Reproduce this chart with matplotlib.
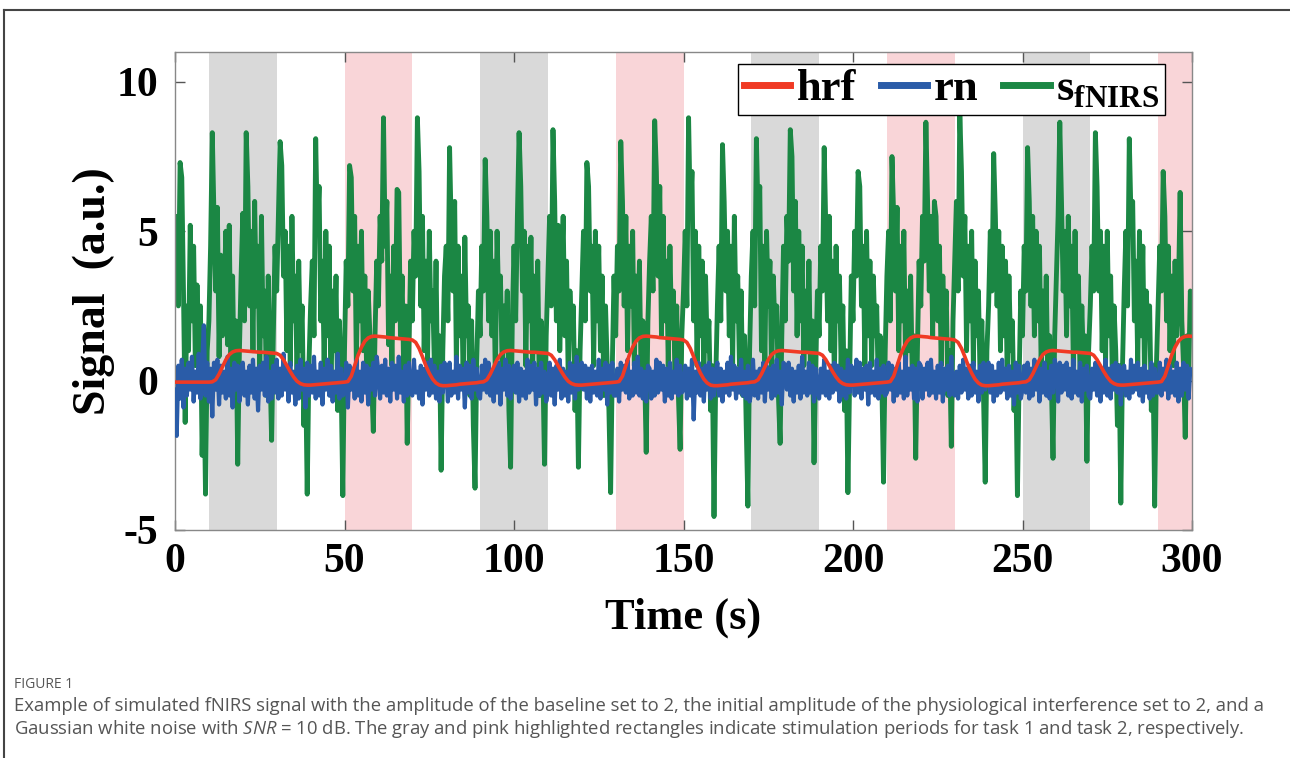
import numpy as np
import matplotlib
matplotlib.use('Agg')
import matplotlib.pyplot as plt
from matplotlib.lines import Line2D

plt.rcParams['mathtext.fontset'] = 'custom'
plt.rcParams['mathtext.bf'] = 'Liberation Serif:bold'
plt.rcParams['mathtext.rm'] = 'Liberation Serif'
plt.rcParams['mathtext.it'] = 'Open Sans:italic'

# ---------------- data ----------------
# stimulation blocks (s)
task1_onsets = [10, 90, 170, 250]     # gray
task2_onsets = [50, 130, 210, 290]    # pink
block_len = 20

# hrf sampled every 1 s, t = 0..300
hrf = [
    -0.05, -0.05, -0.05, -0.05, -0.05, -0.05, -0.05, -0.05, -0.05, -0.05,
    # gray block 10..49
    -0.05, -0.04, 0.03, 0.22, 0.46, 0.70, 0.87, 0.96, 1.00, 1.01,
    1.00, 0.99, 0.98, 0.97, 0.96, 0.95, 0.95, 0.94, 0.93, 0.92,
    0.91, 0.85, 0.70, 0.50, 0.30, 0.12, -0.02, -0.10, -0.14, -0.15,
    -0.15, -0.14, -0.13, -0.12, -0.11, -0.10, -0.09, -0.08, -0.07, -0.06,
    # pink block 50..89
    -0.05, -0.03, 0.15, 0.50, 0.85, 1.12, 1.32, 1.43, 1.48, 1.49,
    1.48, 1.47, 1.46, 1.44, 1.43, 1.42, 1.41, 1.40, 1.39, 1.38,
    1.36, 1.28, 1.08, 0.80, 0.50, 0.25, 0.05, -0.08, -0.15, -0.17,
    -0.17, -0.16, -0.15, -0.14, -0.12, -0.11, -0.10, -0.09, -0.08, -0.07,
    # gray block 90..129
    -0.05, -0.04, 0.03, 0.22, 0.46, 0.70, 0.87, 0.96, 1.00, 1.01,
    1.00, 0.99, 0.98, 0.97, 0.96, 0.95, 0.95, 0.94, 0.93, 0.92,
    0.91, 0.85, 0.70, 0.50, 0.30, 0.12, -0.02, -0.10, -0.14, -0.15,
    -0.15, -0.14, -0.13, -0.12, -0.11, -0.10, -0.09, -0.08, -0.07, -0.06,
    # pink block 130..169
    -0.05, -0.03, 0.15, 0.50, 0.85, 1.12, 1.32, 1.43, 1.48, 1.49,
    1.48, 1.47, 1.46, 1.44, 1.43, 1.42, 1.41, 1.40, 1.39, 1.38,
    1.36, 1.28, 1.08, 0.80, 0.50, 0.25, 0.05, -0.08, -0.15, -0.17,
    -0.17, -0.16, -0.15, -0.14, -0.12, -0.11, -0.10, -0.09, -0.08, -0.07,
    # gray block 170..209
    -0.05, -0.04, 0.03, 0.22, 0.46, 0.70, 0.87, 0.96, 1.00, 1.01,
    1.00, 0.99, 0.98, 0.97, 0.96, 0.95, 0.95, 0.94, 0.93, 0.92,
    0.91, 0.85, 0.70, 0.50, 0.30, 0.12, -0.02, -0.10, -0.14, -0.15,
    -0.15, -0.14, -0.13, -0.12, -0.11, -0.10, -0.09, -0.08, -0.07, -0.06,
    # pink block 210..249
    -0.05, -0.03, 0.15, 0.50, 0.85, 1.12, 1.32, 1.43, 1.48, 1.49,
    1.48, 1.47, 1.46, 1.44, 1.43, 1.42, 1.41, 1.40, 1.39, 1.38,
    1.36, 1.28, 1.08, 0.80, 0.50, 0.25, 0.05, -0.08, -0.15, -0.17,
    -0.17, -0.16, -0.15, -0.14, -0.12, -0.11, -0.10, -0.09, -0.08, -0.07,
    # gray block 250..289
    -0.05, -0.04, 0.03, 0.22, 0.46, 0.70, 0.87, 0.96, 1.00, 1.01,
    1.00, 0.99, 0.98, 0.97, 0.96, 0.95, 0.95, 0.94, 0.93, 0.92,
    0.91, 0.85, 0.70, 0.50, 0.30, 0.12, -0.02, -0.10, -0.14, -0.15,
    -0.15, -0.14, -0.13, -0.12, -0.11, -0.10, -0.09, -0.08, -0.07, -0.06,
    # pink block 290..300
    -0.05, -0.03, 0.15, 0.50, 0.85, 1.12, 1.32, 1.43, 1.48, 1.49, 1.48,
]

# s_fNIRS sampled every 0.5 s, t = 0..300 (one row per 10 s)
s_fnirs = [
    3.0, 5.5, 2.5, 7.3, 6.8, 3.0, -1.4, 2.5, 1.0, 5.2, 2.0, 4.5, 0.5, 3.2, 1.0, 2.5, -2.5, 0.5, -3.8, 1.0,
    2.0, 4.5, 8.3, 5.5, 3.0, 5.8, 0.8, 4.2, 1.5, 2.8, 5.0, 1.2, 5.2, 0.5, 3.5, -0.5, 2.0, -2.8, 1.0, 3.5,
    5.6, 2.0, 8.3, 6.5, 2.5, 5.0, 1.0, 6.0, 2.5, 4.5, 0.0, 5.5, 1.5, 3.0, -0.5, 3.5, 0.5, -2.0, 1.5, 4.5,
    3.0, 5.5, 8.0, 7.2, 3.5, 5.0, 1.0, 4.5, 0.5, 5.5, 2.0, 3.5, 0.0, 4.0, 1.0, 2.5, -1.5, 0.5, -3.8, 0.5,
    2.5, 4.0, 1.5, 8.1, 5.0, 6.5, 2.0, 4.0, 0.5, 5.0, 1.5, 4.5, -0.5, 3.0, 1.0, 3.5, -1.0, 2.0, 0.0, -3.85,
    1.0, 4.0, 2.5, 7.2, 6.8, 3.0, 5.5, 0.5, 4.5, 2.0, 5.0, 1.0, 3.5, 0.5, 3.0, 1.5, 0.0, -1.7, 1.5, 4.0,
    2.5, 5.5, 4.0, 8.8, 4.5, 6.0, 1.2, 3.5, 0.5, 4.5, 2.0, 6.4, 6.3, 1.5, 3.5, 0.0, 2.5, -2.1, 1.0, 4.0,
    2.0, 5.0, 3.5, 8.8, 7.0, 2.5, 5.5, 1.0, 4.0, 0.5, 5.0, 2.0, 3.0, 0.5, 4.0, -0.5, 1.5, -3.0, 1.0, 3.5,
    4.5, 2.0, 7.8, 5.0, 3.0, 6.0, 0.5, 4.5, 1.5, 3.5, 0.0, 4.8, 1.5, 2.5, -0.5, 2.0, -1.5, -3.6, 0.5, 3.0,
    1.5, 4.5, 3.0, 7.4, 5.5, 2.0, 5.0, 1.5, 4.0, 0.0, 5.0, 2.5, 3.5, 0.5, 2.5, 1.0, 3.0, -1.0, -2.9, 2.0,
    4.5, 2.0, 5.5, 8.3, 6.5, 3.0, 5.0, 0.5, 4.5, 2.0, 4.8, 0.5, 3.5, 1.0, 4.0, -0.5, 2.0, 0.5, -2.8, 1.5,
    3.5, 5.5, 2.5, 8.4, 6.0, 2.0, 5.2, 1.0, 3.5, 5.5, 1.5, 4.0, 0.0, 3.0, 1.5, 2.5, -1.0, 1.0, -2.9, 1.0,
    3.0, 5.0, 2.0, 7.3, 6.5, 3.0, 4.5, 0.5, 5.0, 2.0, 4.5, 1.0, 3.5, -0.5, 2.5, 0.5, -1.0, -3.75, 0.5, 3.5,
    1.5, 4.5, 3.0, 8.0, 6.0, 2.5, 5.5, 1.0, 4.5, 2.5, 5.0, 0.5, 3.5, 1.5, 4.0, 0.0, 2.0, 0.5, -2.4, 2.0,
    4.0, 5.5, 3.0, 8.7, 7.0, 3.5, 6.5, 1.5, 5.5, 2.0, 4.0, 0.5, 4.5, 1.5, 3.0, 0.0, 2.5, -0.5, -2.3, 1.5,
    3.0, 5.0, 2.5, 8.8, 5.5, 7.0, 2.0, 5.0, 0.5, 4.5, 1.5, 4.0, 0.0, 3.5, 1.0, 2.0, -1.0, 0.5, -4.55, 0.0,
    2.5, 4.5, 2.0, 7.9, 6.0, 3.0, 5.0, 1.5, 4.5, 0.5, 5.5, 2.0, 3.5, 0.5, 3.0, -0.5, 1.5, -1.5, -4.2, 1.0,
    3.5, 5.0, 2.5, 8.1, 5.5, 6.5, 1.0, 4.5, 0.5, 5.0, 2.5, 4.0, 0.0, 3.5, 1.5, 2.5, -0.5, -2.1, 1.5, 4.5,
    2.0, 5.5, 4.0, 8.4, 7.5, 3.0, 6.0, 1.5, 5.0, 2.0, 4.5, 0.5, 3.0, 1.0, 4.0, 0.0, 2.0, -2.75, 0.5, 3.0,
    1.5, 4.5, 3.0, 7.8, 5.0, 2.0, 5.5, 1.0, 4.0, 0.0, 4.5, 2.0, 3.5, 0.5, 2.5, -1.0, 1.0, -3.75, 0.0, 3.5,
    2.0, 5.0, 3.5, 7.0, 6.5, 2.5, 4.5, 0.5, 5.0, 1.5, 4.0, 0.5, 3.5, 1.5, 2.5, -0.5, 1.5, 0.0, -3.4, 1.0,
    3.5, 5.0, 2.0, 7.5, 5.5, 3.0, 5.8, 1.0, 4.5, 2.0, 5.0, 0.5, 3.0, 1.0, 3.5, 0.0, 1.5, -2.6, 1.0, 4.0,
    2.5, 5.5, 4.0, 8.65, 6.0, 3.0, 5.5, 1.5, 6.0, 5.5, 2.0, 4.5, 0.5, 3.5, 1.5, 3.0, -0.5, 1.0, -2.2, 2.0,
    4.0, 6.0, 3.0, 9.0, 7.0, 3.5, 5.5, 1.0, 4.5, 2.0, 5.0, 0.5, 4.0, 1.5, 3.0, 0.0, 2.0, -0.5, -3.4, 1.0,
    2.5, 5.0, 3.0, 7.6, 5.5, 2.5, 5.0, 1.0, 4.5, 1.5, 4.0, 0.0, 3.5, 1.0, 2.0, -1.0, 0.5, -3.85, 0.0, 3.0,
    1.5, 4.5, 3.0, 7.8, 6.0, 2.5, 5.5, 1.5, 5.0, 2.0, 4.5, 0.5, 3.0, 1.0, 3.5, -0.5, 1.5, 0.0, -2.6, 1.5,
    3.5, 5.5, 8.65, 6.0, 3.0, 5.0, 1.5, 5.5, 2.5, 4.5, 0.5, 5.0, 1.0, 3.5, 0.0, 2.5, 0.5, 1.5, -2.7, 1.0,
    2.5, 4.5, 3.0, 8.3, 6.5, 3.0, 5.0, 1.0, 4.5, 0.5, 5.0, 1.5, 3.5, 0.0, 2.5, 1.0, -1.5, 0.5, -4.1, 0.5,
    3.0, 5.0, 2.5, 8.1, 5.5, 6.0, 2.0, 4.0, 0.5, 5.0, 1.5, 4.5, 0.0, 3.0, 1.5, 2.5, -1.0, 0.5, -4.2, 0.5,
    2.5, 4.5, 3.0, 7.0, 5.5, 2.0, 4.5, 1.0, 3.5, 0.5, 4.0, 1.5, 3.0, 6.3, 2.0, 0.5, -1.9, 1.5, 0.0, 3.0,
    2.5,
]

# rn (residual noise) sampled every 0.5 s, t = 0..300
rn = [
    -0.3, -1.85, 0.5, -0.6, 0.7, -0.9, 0.4, -0.5, 0.6, -0.3, 0.8, -0.7, 0.3, -0.4, 0.9, -0.6, 0.5, 1.85, -0.5, 0.6,
    -0.7, 0.4, -1.2, 0.6, -0.3, 0.7, -0.8, 0.5, -0.4, 0.3, -0.6, 0.8, -0.5, 0.4, -0.9, 0.6, -0.3, 0.5, -0.7, 0.4,
    0.6, -0.5, 0.3, -0.8, 0.5, -0.4, 0.7, -0.6, 0.4, -1.0, 0.5, -0.3, 0.6, -0.5, 0.8, -0.7, 0.3, -0.6, 0.5, -0.4,
    0.7, -0.6, 0.4, -0.5, 0.9, -0.3, 0.5, -0.7, 0.6, -0.4, 0.3, -0.8, 0.5, -0.6, 0.7, -0.3, 0.4, -0.9, 0.6, -0.5,
    0.5, -0.4, 0.8, -0.6, 0.3, -0.5, 0.6, -0.8, 0.4, -0.3, 0.7, -0.5, 0.5, -0.7, 0.3, -0.4, 0.9, -0.6, 0.4, -0.5,
    -0.4, 0.6, -0.9, 0.5, -0.3, 0.4, -0.6, 0.7, -0.5, 0.3, -0.7, 0.6, -0.4, 0.5, -0.8, 0.4, -0.3, 0.6, -0.5, 0.8,
    0.3, -0.6, 0.5, -0.4, 0.7, -0.5, 0.4, -0.7, 0.6, -0.3, 0.5, -0.6, 0.8, -0.4, 0.3, -0.7, 0.5, -0.5, 0.6, -0.4,
    -0.5, 0.7, -0.4, 0.3, -0.6, 0.5, -0.8, 0.4, -0.3, 0.6, -0.5, 0.7, -0.4, 0.5, -0.6, 0.3, -0.7, 0.5, -0.4, 0.6,
    0.4, -0.7, 0.6, -0.5, 0.3, -0.4, 0.8, -0.6, 0.5, -0.3, 0.4, -0.9, 0.6, -0.4, 0.5, -0.6, 0.7, -0.3, 0.4, -0.5,
    -0.6, 0.5, -0.3, 0.7, -0.4, 0.6, -0.5, 0.3, -0.7, 0.5, -0.4, 0.6, -0.8, 0.4, -0.3, 0.7, -0.5, 0.5, -0.6, 0.3,
    0.5, -0.4, 0.6, -0.7, 0.4, -0.5, 0.3, -0.6, 0.7, -0.4, 0.5, -0.3, 0.6, -0.8, 0.4, -0.5, 0.6, -0.4, 0.3, -0.7,
    -0.4, 0.6, -0.5, 0.4, -0.8, 0.5, -0.3, 0.7, -0.6, 0.4, -0.5, 0.3, -0.7, 0.6, -0.4, 0.5, -0.6, 0.8, -0.3, 0.4,
    0.6, -0.3, 0.5, -0.6, 0.4, -0.7, 0.5, -0.4, 0.3, -0.5, 0.7, -0.6, 0.4, -0.3, 0.6, -0.8, 0.5, -0.4, 0.6, -0.5,
    -0.5, 0.4, -0.7, 0.6, -0.3, 0.5, -0.4, 0.7, -0.6, 0.3, -0.5, 0.6, -0.4, 0.8, -0.5, 0.4, -0.6, 0.3, -0.7, 0.5,
    0.4, -0.6, 0.3, -0.5, 0.7, -0.4, 0.6, -0.3, 0.5, -0.7, 0.4, -0.5, 0.6, -0.6, 0.3, -0.4, 0.7, -0.5, 0.5, -0.4,
    -0.3, 0.5, -0.6, 0.4, -0.5, 0.7, -1.3, 0.3, -0.4, 0.6, -0.5, 0.4, -0.7, 0.5, -0.3, 0.6, -0.6, 0.4, -0.5, 0.3,
    0.6, -0.5, 0.4, -0.7, 0.3, -0.4, 0.6, -0.5, 0.8, -0.3, 0.5, -0.6, 0.4, -0.4, 0.7, -0.5, 0.3, -0.6, 0.5, -0.7,
    -0.4, 0.7, -0.5, 0.3, -0.6, 0.4, -0.4, 0.6, -0.7, 0.5, -0.3, 0.4, -0.6, 0.5, -0.5, 0.7, -0.4, 0.3, -0.8, 0.6,
    0.5, -0.3, 0.6, -0.5, 0.4, -0.7, 0.3, -0.4, 0.5, -0.6, 0.8, -0.4, 0.3, -0.5, 0.6, -0.4, 0.5, -0.7, 0.4, -0.3,
    -0.6, 0.4, -0.4, 0.7, -0.5, 0.3, -0.6, 0.5, -0.4, 0.6, -0.3, 0.5, -0.7, 0.4, -0.5, 0.3, -0.6, 0.7, -0.4, 0.5,
    0.3, -0.5, 0.7, -0.4, 0.6, -0.6, 0.4, -0.3, 0.5, -0.8, 0.6, -0.4, 0.3, -0.5, 0.7, -0.6, 0.4, -0.4, 0.5, -0.5,
    -0.4, 0.6, -0.3, 0.5, -0.7, 0.4, -0.5, 0.6, -0.4, 0.3, -0.6, 0.8, -0.5, 0.4, -0.3, 0.5, -0.6, 0.4, -0.7, 0.6,
    0.5, -0.6, 0.4, -0.3, 0.6, -0.5, 0.7, -0.4, 0.3, -0.6, 0.5, -0.4, 0.6, -0.7, 0.4, -0.3, 0.5, -0.5, 0.8, -0.4,
    -0.5, 0.3, -0.6, 0.5, -0.4, 0.7, -0.3, 0.4, -0.6, 0.5, -0.5, 0.6, -0.4, 0.3, -0.7, 0.5, -0.4, 0.6, -0.3, 0.4,
    0.6, -0.4, 0.5, -0.7, 0.3, -0.5, 0.6, -0.4, 0.7, -0.3, 0.4, -0.6, 0.5, -0.5, 0.3, -0.8, 0.6, -0.4, 0.5, -0.6,
    -0.3, 0.5, -0.4, 0.6, -0.6, 0.4, -0.5, 0.7, -0.3, 0.5, -0.7, 0.4, -0.4, 0.6, -0.5, 0.3, -0.6, 0.5, -0.4, 0.7,
    0.4, -0.7, 0.6, -0.4, 0.5, -0.3, 0.6, -0.5, 0.4, -0.6, 0.7, -0.4, 0.3, -0.5, 0.6, -0.7, 0.4, -0.3, 0.5, -0.5,
    -0.6, 0.4, -0.3, 0.6, -0.5, 0.5, -0.7, 0.3, -0.4, 0.7, -0.5, 0.4, -0.6, 0.5, -0.3, 0.6, -0.4, 0.5, -0.8, 0.4,
    0.5, -0.5, 0.3, -0.6, 0.7, -0.4, 0.5, -0.3, 0.6, -0.5, 0.4, -0.7, 0.5, -0.4, 0.3, -0.6, 0.6, -0.5, 0.4, -0.4,
    -0.4, 0.6, -0.5, 0.4, -0.3, 0.7, -0.6, 0.5, -0.4, 0.3, -0.5, 0.6, -0.7, 0.4, -0.5, 0.6, -0.3, 0.5, -0.6, 0.4,
    0.3,
]

x_ticks = [0, 50, 100, 150, 200, 250, 300]
y_ticks = [-5, 0, 5, 10]

# ---------------- figure ----------------
fig = plt.figure(figsize=(12.9, 7.58), dpi=100)
ax = fig.add_axes([175/1290, 1-530/758, (1192-175)/1290, (530-52)/758])

for t0 in task1_onsets:
    ax.axvspan(t0, t0 + block_len, color='#d9d9d9', lw=0, zorder=0)
for t0 in task2_onsets:
    ax.axvspan(t0, t0 + block_len, color='#f9d5d8', lw=0, zorder=0)

t_fast = np.linspace(0, 300, len(s_fnirs))
t_hrf = np.linspace(0, 300, len(hrf))

ln_s, = ax.plot(t_fast, s_fnirs, color='#1b8744', lw=3.5, zorder=2)
ln_rn, = ax.plot(t_fast, rn, color='#2a5ca8', lw=3.0, zorder=3)
ln_h, = ax.plot(t_hrf, hrf, color='#f03a24', lw=2.6, zorder=4)

ax.set_xlim(0, 300)
ax.set_ylim(-5, 11)
ax.set_xticks(x_ticks)
ax.set_yticks(y_ticks)
ax.set_xticklabels([str(v) for v in x_ticks])
ax.set_yticklabels([str(v) for v in y_ticks])
ax.tick_params(direction='in', top=True, right=True, length=7, width=1,
               color='#555555', labelsize=30, pad=9)
ax.tick_params(axis='y', pad=12)
for lab in ax.get_xticklabels() + ax.get_yticklabels():
    lab.set_fontfamily('Liberation Serif')
    lab.set_fontweight('bold')
for sp in ax.spines.values():
    sp.set_color('#888888')
    sp.set_linewidth(1.0)

ax.set_xlabel('Time (s)', fontsize=32, fontweight='bold', family='Liberation Serif', labelpad=12)
ax.set_ylabel('Signal  (a.u.)', fontsize=33, fontweight='bold', family='Liberation Serif', labelpad=1)

leg = ax.legend([ln_h, ln_rn, ln_s], ['hrf', 'rn', r'$\mathbf{s}_{\mathbf{fNIRS}}$'],
                loc='upper right', bbox_to_anchor=((1165-175)/1017, (530-64)/478),
                ncol=3, frameon=True, fancybox=False, framealpha=1,
                edgecolor='black', borderaxespad=0, borderpad=0.12,
                handlelength=1.05, handletextpad=0.15, columnspacing=0.55,
                prop={'family': 'Liberation Serif', 'weight': 'bold', 'size': 32})
leg.get_frame().set_linewidth(1.0)
for h in leg.legend_handles:
    h.set_linewidth(5)

# page frame lines
fig.add_artist(Line2D([4/1290, 1], [1-10/758, 1-10/758], color='#444444', lw=1.5))
fig.add_artist(Line2D([4/1290, 4/1290], [0, 1-10/758], color='#444444', lw=1.5))

# caption
fig.text(14/1290, 1-684/758, 'FIGURE 1', fontsize=10, color='#555555',
         family='Open Sans', va='center')
fig.text(14/1290, 1-706/758,
         'Example of simulated fNIRS signal with the amplitude of the baseline set to 2, the initial amplitude '
         'of the physiological interference set to 2, and a',
         fontsize=13.3, color='#555555', family='Open Sans', va='center')
fig.text(14/1290, 1-729/758,
         r'Gaussian white noise with $\mathit{SNR}$ = 10 dB. The gray and pink highlighted rectangles indicate '
         'stimulation periods for task 1 and task 2, respectively.',
         fontsize=13.3, color='#555555', family='Open Sans', va='center')

fig.savefig('out.png', dpi=100)
